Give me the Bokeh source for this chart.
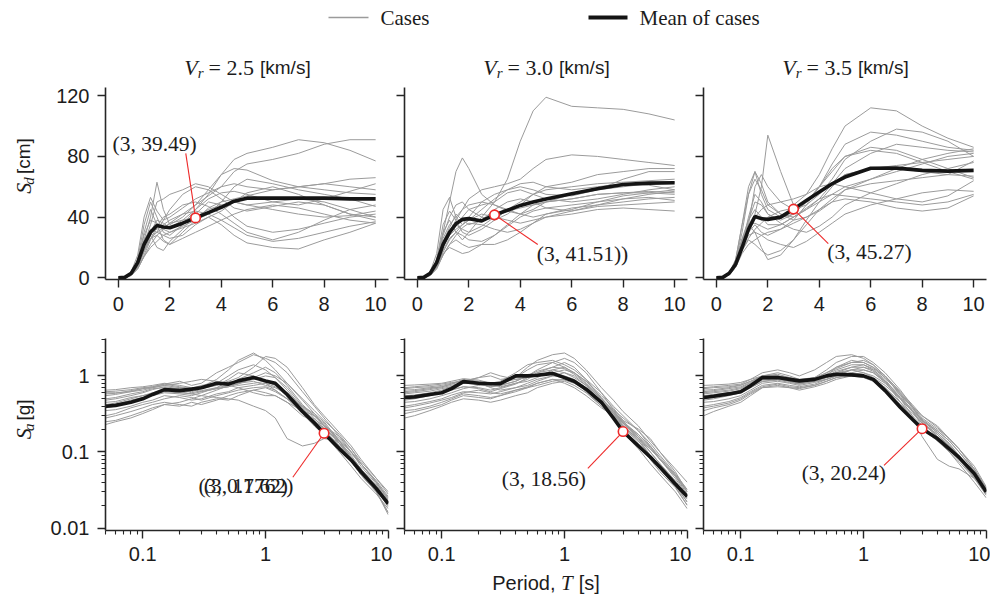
import math
from bokeh.plotting import figure
from bokeh.layouts import column, row
from bokeh.models import Range1d, FixedTicker, PrintfTickFormatter, CustomJSTickFormatter, Label
from bokeh.core.properties import value
from bokeh.embed import file_html
from bokeh.resources import INLINE

# ---------------- data ----------------
VR_LABELS = ["2.5", "3.0", "3.5"]

T_SD = [0, 0.25, 0.5, 0.75, 1, 1.25, 1.5, 1.75, 2, 2.5, 3, 3.5, 4, 4.5, 5, 6, 7, 8, 9, 10]
T_SA = [0.05, 0.06, 0.08, 0.1, 0.12, 0.15, 0.2, 0.25, 0.3, 0.4, 0.5, 0.6, 0.8, 1,
        1.2, 1.5, 2, 2.5, 3, 4, 5, 6, 8, 10]

SD_CASES_VR25 = [
    [0, .3, 2, 8, 20, 30, 38, 36, 33, 38, 45, 55, 68, 78, 82, 86, 91, 89, 84, 77],
    [0, .2, 2, 6, 14, 22, 28, 32, 36, 42, 48, 54, 60, 70, 75, 78, 82, 88, 91, 91],
    [0, .3, 3, 10, 25, 40, 63, 45, 35, 40, 48, 58, 68, 72, 71, 64, 60, 62, 65, 66],
    [0, .4, 4, 15, 40, 53, 44, 38, 40, 46, 52, 56, 60, 62, 60, 58, 60, 62, 60, 58],
    [0, .3, 3, 12, 35, 50, 40, 30, 28, 35, 45, 52, 56, 57, 55, 50, 48, 52, 57, 62],
    [0, .2, 2, 8, 22, 35, 50, 52, 55, 58, 62, 60, 55, 50, 48, 50, 52, 50, 45, 40],
    [0, .2, 2, 7, 18, 28, 30, 38, 45, 55, 60, 58, 52, 46, 44, 47, 50, 48, 42, 38],
    [0, .3, 3, 11, 30, 45, 35, 25, 22, 30, 38, 46, 50, 52, 54, 58, 60, 58, 56, 55],
    [0, .2, 1.5, 6, 15, 25, 34, 40, 42, 48, 50, 47, 42, 36, 30, 25, 30, 38, 45, 48],
    [0, .3, 2.5, 9, 22, 28, 20, 18, 24, 32, 42, 50, 48, 40, 34, 30, 32, 36, 40, 42],
    [0, .2, 2, 7, 17, 26, 30, 28, 26, 28, 35, 40, 35, 28, 23, 20, 19, 25, 30, 36],
    [0, .2, 2, 8, 20, 30, 32, 35, 38, 42, 44, 42, 38, 33, 28, 24, 26, 30, 34, 37],
    [0, .3, 2.5, 10, 25, 32, 30, 33, 36, 38, 40, 45, 48, 50, 48, 45, 42, 40, 41, 44],
    [0, .2, 1.5, 6, 14, 20, 24, 28, 30, 34, 38, 42, 50, 60, 65, 62, 58, 55, 52, 47],
    [0, .3, 3, 12, 28, 38, 36, 32, 30, 33, 36, 40, 44, 50, 56, 60, 55, 48, 42, 40],
    [0, .2, 2, 7, 18, 26, 28, 24, 22, 26, 30, 34, 38, 42, 45, 48, 46, 42, 38, 36],
]
SD_MEAN_VR25 = [0, .3, 3, 10, 22, 30, 34.5, 33.5, 33, 36, 39.49, 43, 46.5, 50.5, 52.5, 52.5, 52.5, 52.5, 52, 52]

SD_CASES_VR30 = [
    [0, .3, 2.5, 9, 22, 30, 35, 40, 45, 48, 50, 65, 90, 110, 119, 113, 112, 111, 108, 104],
    [0, .3, 3, 12, 30, 50, 70, 79, 72, 55, 48, 44, 42, 45, 50, 55, 58, 60, 62, 63],
    [0, .4, 4, 16, 45, 53, 40, 35, 38, 45, 52, 58, 62, 63, 60, 58, 60, 62, 61, 58],
    [0, .2, 2, 8, 20, 30, 38, 45, 52, 58, 60, 62, 65, 72, 78, 81, 80, 78, 76, 74],
    [0, .3, 3, 10, 28, 40, 48, 50, 45, 40, 38, 42, 48, 55, 60, 63, 68, 70, 72, 72],
    [0, .2, 2, 7, 18, 26, 30, 35, 40, 50, 55, 58, 60, 58, 55, 54, 58, 65, 70, 70],
    [0, .3, 3, 12, 35, 44, 38, 30, 28, 32, 38, 45, 50, 55, 58, 60, 62, 63, 64, 65],
    [0, .2, 2, 7, 16, 20, 18, 16, 17, 22, 28, 35, 42, 48, 50, 52, 55, 56, 56, 55],
    [0, .2, 1.5, 6, 15, 22, 25, 22, 20, 22, 22, 25, 30, 36, 42, 46, 48, 50, 52, 53],
    [0, .3, 2.5, 9, 24, 33, 42, 38, 35, 38, 45, 50, 52, 50, 46, 44, 48, 52, 55, 57],
    [0, .2, 2, 8, 20, 28, 32, 35, 38, 42, 40, 38, 36, 38, 40, 42, 45, 46, 45, 44],
    [0, .3, 3, 11, 30, 38, 30, 25, 30, 40, 50, 56, 58, 55, 52, 50, 52, 55, 58, 60],
    [0, .2, 2, 7, 17, 25, 30, 28, 25, 24, 28, 34, 40, 44, 46, 48, 50, 52, 53, 51],
    [0, .3, 2.5, 10, 26, 35, 40, 45, 48, 50, 48, 45, 42, 40, 42, 45, 50, 54, 56, 58],
    [0, .2, 1.5, 6, 15, 22, 28, 33, 36, 35, 32, 30, 32, 36, 40, 44, 47, 48, 49, 50],
    [0, .2, 2, 8, 20, 30, 35, 32, 30, 34, 40, 44, 46, 48, 50, 52, 55, 56, 57, 56],
]
SD_MEAN_VR30 = [0, .3, 3, 10, 22, 30, 35.6, 38.5, 39, 37.5, 41.51, 44.5, 47.7, 50, 52, 55.4, 58.7, 61.5, 62.4, 62.6]

SD_CASES_VR35 = [
    [0, .3, 3, 10, 25, 35, 42, 60, 94, 70, 48, 55, 68, 85, 100, 112, 110, 100, 92, 86],
    [0, .3, 3, 12, 35, 60, 70, 55, 45, 40, 42, 50, 60, 75, 88, 96, 94, 90, 86, 84],
    [0, .2, 2, 8, 20, 35, 60, 68, 60, 50, 45, 48, 55, 65, 78, 90, 98, 96, 90, 80],
    [0, .3, 3, 11, 30, 55, 70, 62, 50, 42, 40, 45, 52, 62, 72, 82, 88, 86, 84, 83],
    [0, .2, 2, 8, 22, 40, 55, 50, 42, 38, 42, 50, 60, 70, 80, 86, 84, 78, 72, 66],
    [0, .3, 3, 12, 35, 55, 65, 58, 48, 42, 38, 40, 44, 50, 58, 65, 72, 78, 82, 85],
    [0, .2, 2, 7, 18, 25, 22, 18, 15, 18, 25, 35, 45, 52, 58, 62, 64, 66, 68, 77],
    [0, .3, 3, 10, 25, 35, 30, 20, 12, 15, 25, 38, 50, 60, 68, 72, 74, 76, 78, 80],
    [0, .2, 2, 8, 20, 28, 30, 28, 25, 22, 20, 24, 30, 36, 42, 48, 52, 56, 58, 57],
    [0, .3, 3, 10, 26, 38, 45, 40, 35, 35, 40, 46, 52, 55, 54, 52, 50, 48, 50, 55],
    [0, .2, 2, 7, 16, 22, 25, 28, 30, 32, 36, 40, 45, 50, 52, 50, 46, 44, 46, 54],
    [0, .3, 2.5, 9, 22, 32, 40, 45, 48, 50, 52, 55, 60, 62, 60, 56, 52, 50, 54, 64],
    [0, .2, 2, 8, 20, 30, 35, 30, 28, 32, 38, 48, 60, 72, 80, 84, 82, 76, 70, 65],
    [0, .3, 3, 10, 25, 35, 36, 34, 32, 35, 40, 45, 50, 55, 60, 65, 70, 75, 80, 82],
    [0, .2, 2, 7, 18, 26, 32, 36, 40, 44, 46, 50, 56, 62, 68, 72, 72, 70, 68, 67],
    [0, .3, 2.5, 9, 24, 38, 50, 48, 42, 36, 32, 30, 34, 40, 48, 56, 62, 68, 72, 76],
]
SD_MEAN_VR35 = [0, .3, 3, 9, 20, 32, 40.4, 39, 38.5, 40, 45.27, 51, 56.5, 62, 66.4, 72.2, 72.3, 70.8, 70.3, 70.8]

SA_CASES_VR25 = [
    [.62, .63, .66, .70, .72, .78, .85, .75, .80, 1.1, 1.3, 1.5, 1.9, 1.7, 1.5, 1.1, .62, .40, .28, .16, .10, .07, .04, .025],
    [.55, .57, .62, .68, .70, .75, .70, .65, .72, .90, 1.2, 1.6, 2.0, 1.6, 1.2, .80, .50, .35, .26, .17, .11, .075, .045, .030],
    [.48, .50, .55, .60, .66, .72, .68, .60, .64, .70, .85, .95, 1.3, 1.8, 1.7, 1.3, .70, .42, .30, .18, .12, .08, .045, .028],
    [.42, .44, .50, .55, .58, .65, .62, .58, .55, .65, .75, .90, 1.1, 1.3, 1.1, .75, .42, .30, .22, .15, .10, .07, .042, .026],
    [.65, .66, .70, .72, .75, .80, .75, .70, .72, .78, .85, .80, .90, 1.0, .95, .70, .40, .28, .20, .14, .09, .06, .035, .020],
    [.38, .40, .45, .50, .55, .60, .58, .55, .60, .70, .75, .70, .60, .55, .55, .45, .30, .25, .21, .13, .08, .055, .033, .020],
    [.30, .32, .38, .42, .45, .50, .55, .52, .48, .55, .60, .65, .70, .72, .65, .50, .32, .22, .17, .13, .095, .07, .040, .023],
    [.25, .26, .30, .34, .38, .42, .45, .50, .55, .52, .50, .48, .40, .35, .28, .15, .12, .13, .15, .14, .10, .065, .038, .022],
    [.60, .60, .62, .65, .70, .75, .80, .85, .90, .85, .80, .75, .80, .85, .75, .60, .38, .25, .17, .10, .065, .045, .028, .018],
    [.50, .52, .58, .62, .68, .70, .65, .62, .68, .75, .90, 1.1, 1.0, .80, .65, .50, .40, .32, .25, .14, .08, .05, .030, .016],
    [.35, .36, .40, .45, .48, .55, .52, .48, .50, .58, .62, .70, .75, .80, .72, .55, .35, .27, .22, .16, .11, .07, .040, .024],
    [.28, .30, .34, .38, .42, .45, .42, .40, .45, .50, .48, .55, .65, .60, .55, .45, .35, .30, .24, .13, .075, .05, .030, .015],
    [.45, .46, .52, .55, .60, .65, .70, .68, .62, .68, .72, .80, .85, .75, .70, .58, .40, .30, .23, .14, .085, .06, .036, .021],
    [.58, .59, .64, .68, .72, .78, .72, .68, .75, .80, 1.0, 1.2, 1.4, 1.2, .95, .65, .38, .26, .19, .12, .08, .055, .032, .019],
    [.40, .42, .48, .52, .56, .62, .60, .58, .62, .68, .72, .78, .95, 1.1, 1.0, .80, .48, .32, .22, .13, .085, .06, .036, .022],
    [.23, .25, .28, .32, .36, .42, .40, .45, .42, .48, .55, .60, .65, .70, .62, .50, .35, .26, .20, .12, .075, .05, .030, .016],
]
SA_MEAN_VR25 = [.40, .41, .45, .50, .57, .66, .64, .67, .70, .80, .78, .86, .95, .86, .80, .57, .34, .24, .1762, .11, .078, .055, .033, .021]

SA_CASES_VR30 = [
    [.70, .72, .75, .78, .82, .85, .95, 1.0, .90, .95, 1.3, 1.6, 1.9, 2.0, 1.7, 1.2, .70, .48, .34, .22, .14, .10, .06, .040],
    [.62, .64, .68, .72, .78, .90, .85, .80, .85, 1.1, 1.4, 1.5, 1.6, 1.4, 1.2, .90, .60, .40, .30, .19, .12, .08, .050, .032],
    [.55, .56, .60, .65, .72, .80, .78, .72, .75, .85, 1.0, 1.2, 1.5, 1.7, 1.5, 1.1, .60, .36, .24, .16, .11, .08, .048, .030],
    [.75, .76, .78, .80, .85, .92, .88, .80, .82, .90, .95, 1.0, 1.1, 1.0, .90, .70, .45, .32, .24, .15, .10, .07, .040, .025],
    [.48, .50, .55, .60, .65, .72, .70, .65, .70, .80, .90, 1.1, 1.3, 1.5, 1.3, .90, .50, .34, .26, .20, .15, .10, .055, .030],
    [.40, .42, .46, .50, .56, .62, .60, .58, .62, .70, .75, .85, 1.0, 1.1, 1.0, .75, .45, .32, .22, .13, .085, .06, .035, .020],
    [.35, .36, .40, .45, .50, .58, .55, .52, .55, .62, .70, .80, .90, .80, .70, .55, .38, .30, .22, .14, .09, .065, .040, .024],
    [.65, .66, .70, .72, .78, .85, .95, 1.1, 1.0, .90, .95, 1.1, 1.2, 1.1, .95, .75, .50, .35, .25, .16, .10, .07, .042, .026],
    [.28, .30, .35, .40, .45, .50, .48, .45, .48, .55, .60, .70, .80, .85, .75, .60, .40, .28, .18, .11, .07, .05, .030, .018],
    [.58, .60, .63, .68, .72, .80, .82, .70, .65, .70, .80, .90, 1.0, .95, .85, .62, .40, .30, .22, .15, .11, .08, .048, .028],
    [.45, .46, .50, .55, .60, .68, .75, .78, .72, .80, .85, .95, 1.2, 1.3, 1.1, .85, .55, .38, .26, .15, .09, .06, .036, .022],
    [.52, .54, .58, .62, .66, .72, .68, .62, .68, .78, .95, 1.05, 1.1, 1.2, 1.1, .85, .52, .34, .24, .17, .12, .085, .050, .030],
    [.38, .40, .44, .48, .52, .60, .65, .60, .58, .65, .72, .80, .90, .88, .80, .65, .42, .30, .21, .12, .08, .055, .034, .020],
    [.68, .70, .72, .75, .80, .88, .82, .75, .80, .95, 1.2, 1.4, 1.5, 1.3, 1.1, .80, .50, .36, .28, .19, .13, .09, .052, .032],
    [.32, .34, .38, .42, .48, .55, .52, .50, .55, .65, .70, .75, .85, .90, .82, .65, .45, .32, .23, .14, .09, .065, .038, .022],
    [.60, .62, .66, .70, .75, .82, .78, .72, .75, .85, 1.0, 1.15, 1.3, 1.25, 1.05, .78, .48, .33, .25, .17, .115, .08, .045, .027],
]
SA_MEAN_VR30 = [.52, .53, .57, .60, .68, .84, .80, .79, .79, 1.0, 1.0, 1.02, 1.08, .95, .85, .67, .45, .28, .1856, .12, .086, .063, .038, .026]

SA_CASES_VR35 = [
    [.70, .72, .75, .78, .90, 1.1, 1.2, 1.1, 1.0, 1.2, 1.5, 1.8, 1.9, 1.7, 1.4, 1.0, .60, .40, .28, .20, .15, .11, .065, .035],
    [.62, .64, .68, .72, .82, 1.0, 1.05, .95, .85, .95, 1.2, 1.5, 1.8, 1.8, 1.5, 1.1, .65, .40, .25, .16, .12, .09, .055, .034],
    [.55, .57, .60, .65, .75, .90, .95, .85, .78, .85, 1.0, 1.3, 1.6, 1.5, 1.3, 1.0, .62, .42, .30, .22, .15, .11, .060, .033],
    [.75, .76, .78, .82, .90, 1.0, 1.0, .92, .88, .92, 1.0, 1.1, 1.2, 1.1, .95, .75, .50, .35, .26, .18, .13, .09, .050, .030],
    [.48, .50, .55, .60, .70, .85, .90, .85, .80, .90, 1.1, 1.3, 1.5, 1.6, 1.4, 1.0, .55, .35, .22, .14, .11, .08, .048, .029],
    [.40, .42, .46, .52, .62, .75, .80, .75, .72, .78, .90, 1.0, 1.2, 1.3, 1.2, .90, .50, .30, .16, .08, .065, .06, .045, .029],
    [.30, .34, .40, .45, .55, .70, .75, .70, .65, .72, .80, .90, 1.0, 1.0, .90, .70, .45, .32, .24, .17, .12, .085, .050, .031],
    [.65, .66, .70, .75, .85, 1.0, 1.1, 1.0, .90, .85, .90, 1.0, 1.1, 1.2, 1.1, .85, .55, .40, .30, .21, .15, .11, .060, .034],
    [.58, .60, .63, .68, .78, .92, .95, .88, .82, .88, .95, 1.1, 1.3, 1.4, 1.2, .85, .45, .28, .20, .14, .10, .075, .045, .027],
    [.45, .46, .50, .55, .65, .80, .85, .80, .75, .82, .90, 1.0, 1.1, 1.0, .92, .70, .42, .30, .22, .15, .11, .08, .047, .028],
    [.52, .54, .58, .62, .72, .88, .92, .85, .80, .90, 1.05, 1.2, 1.4, 1.4, 1.25, .95, .58, .38, .27, .19, .14, .10, .056, .032],
    [.38, .40, .44, .50, .60, .72, .78, .72, .70, .75, .85, .95, 1.0, .95, .85, .65, .40, .28, .21, .15, .10, .07, .040, .025],
    [.68, .70, .72, .76, .85, .98, 1.0, .95, .90, .95, 1.1, 1.25, 1.5, 1.5, 1.3, .95, .58, .38, .26, .18, .125, .09, .052, .031],
    [.35, .38, .42, .48, .58, .70, .72, .70, .68, .75, .85, .95, 1.05, 1.1, 1.0, .80, .50, .34, .24, .16, .11, .08, .046, .028],
    [.60, .62, .65, .70, .80, .95, 1.0, .92, .85, .90, 1.0, 1.15, 1.3, 1.3, 1.15, .85, .52, .36, .26, .19, .14, .10, .058, .033],
    [.50, .52, .56, .60, .70, .84, .88, .82, .78, .85, .95, 1.05, 1.2, 1.2, 1.1, .82, .50, .34, .25, .17, .12, .085, .050, .030],
]
SA_MEAN_VR35 = [.52, .54, .58, .62, .74, .95, .95, .90, .86, .90, 1.0, 1.05, 1.03, 1.0, .90, .64, .385, .27, .2024, .15, .11, .085, .052, .030]

# highlighted points (T, value) and their printed labels
SD_POINTS = [(3, 39.49), (3, 41.51), (3, 45.27)]
SD_POINT_LABELS = [["(3, 39.49)"], ["(3, 41.51))"], ["(3, 45.27)"]]
SA_POINTS = [(3, 0.1762), (3, 0.1856), (3, 0.2024)]
SA_POINT_LABELS = [["(3, 17.62)", "(3, 0.1762)"], ["(3, 18.56)"], ["(3, 20.24)"]]

# ---------------- style ----------------
GRAY = "#9b9b9b"
BLACK = "#141414"
RED = "#ee2a2a"
AX = "#262626"
TXT = "#1c1c1c"
SERIF = "Liberation Serif"
SANS = "Liberation Sans"

SERIF_W = {'(': 333, ')': 333, ',': 250, ' ': 250, '.': 250, '=': 564, 'C': 667, 'a': 444,
           's': 389, 'e': 444, 'M': 889, 'n': 500, 'o': 500, 'f': 333, 'c': 444}
SERIF_IW = {'V': 611, 'r': 389, 'S': 500, 'd': 500, 'a': 500, 'T': 556}
SANS_W = {'[': 278, ']': 278, 'k': 500, 'm': 833, '/': 278, 's': 500, 'c': 500, 'g': 556,
          'P': 667, 'e': 556, 'r': 333, 'i': 222, 'o': 556, 'd': 556, ',': 278, ' ': 278}


def text_width(t, font, style, size):
    if font == SANS:
        tab = SANS_W
    elif style == "italic":
        tab = SERIF_IW
    else:
        tab = SERIF_W
    return sum(tab.get(ch, 500) for ch in t) / 1000.0 * size


def rich(p, x, y, parts, rotated=False):
    """Composite text in page pixels, (x, y) = visual centre of the whole string.
    parts: (text, font, style, size px, baseline shift px, gap after px)."""
    widths = [text_width(t, f, s, z) + g for (t, f, s, z, sh, g) in parts]
    total = sum(widths)
    if not rotated:
        pos = x - total / 2
        for (t, f, s, z, sh, g), w in zip(parts, widths):
            p.text(x=[pos], y=[-(y + sh)], text=[t], text_font=value(f), text_font_style=s,
                   text_font_size=f"{z}px", text_align="left", text_baseline="middle",
                   text_color=TXT)
            pos += w
    else:
        pos = -(y + total / 2)
        for (t, f, s, z, sh, g), w in zip(parts, widths):
            p.add_layout(Label(x=x + sh, y=pos, x_units="data", y_units="data", text=t,
                               text_font=f, text_font_style=s, text_font_size=f"{z}px",
                               text_align="left", text_baseline="middle", text_color=TXT,
                               angle=math.pi / 2, angle_units="rad"))
            pos += w


def blank(x0, y0, width, height):
    """A plain drawing area whose data units are page pixels (y negated)."""
    p = figure(width=width, height=height, x_range=Range1d(x0, x0 + width),
               y_range=Range1d(-(y0 + height), -y0),
               x_axis_location=None, y_axis_location=None, toolbar_location=None,
               output_backend="svg", min_border=0)
    p.outline_line_color = None
    p.grid.visible = False
    return p


def style_axes(p, show_y, x_standoff):
    for ax in p.axis:
        ax.axis_line_color = AX
        ax.axis_line_width = 1.6
        ax.major_tick_line_color = AX
        ax.major_tick_line_width = 1.4
        ax.minor_tick_line_color = AX
        ax.minor_tick_line_width = 1.1
        ax.major_tick_in = 0
        ax.major_tick_out = 8
        ax.minor_tick_in = 0
        ax.minor_tick_out = 4
        ax.major_label_text_font = SANS
        ax.major_label_text_font_size = "20px"
        ax.major_label_text_color = TXT
    p.xaxis.major_label_standoff = x_standoff
    p.yaxis.major_label_standoff = 8
    if not show_y:
        p.yaxis.formatter = CustomJSTickFormatter(code="return ''")
        p.yaxis.major_label_standoff = 0


def panel_base(i, height, top, bottom, log):
    widths = [350, 299, 299]
    lefts = [63, 12, 12]
    kw = dict(width=widths[i], height=height, toolbar_location=None, output_backend="svg",
              min_border_left=lefts[i], min_border_right=4, min_border_top=top,
              min_border_bottom=bottom)
    if log:
        p = figure(x_axis_type="log", y_axis_type="log",
                   x_range=Range1d(0.0497, 10.05), y_range=Range1d(0.0093, 3.1), **kw)
    else:
        p = figure(x_range=Range1d(-0.5, 10.5), y_range=Range1d(-1.1, 125.4), **kw)
    p.outline_line_color = None
    p.grid.visible = False
    p.background_fill_color = "white"
    return p


SD_CASES = [SD_CASES_VR25, SD_CASES_VR30, SD_CASES_VR35]
SD_MEANS = [SD_MEAN_VR25, SD_MEAN_VR30, SD_MEAN_VR35]
SA_CASES = [SA_CASES_VR25, SA_CASES_VR30, SA_CASES_VR35]
SA_MEANS = [SA_MEAN_VR25, SA_MEAN_VR30, SA_MEAN_VR35]

# label placement (data coords): (text x, text y, align, line end x, line end y)
SD_LABEL_POS = [(1.41, 88.5, "center", 2.62, 82.0),
                (6.42, 15.4, "center", 4.68, 22.0),
                (5.95, 16.7, "center", 4.35, 22.6)]
SA_LABEL_POS = [(0.692, 0.0354, "center", 1.67, 0.0465),
                (0.679, 0.0438, "center", 1.55, 0.061),
                (0.691, 0.0525, "center", 1.47, 0.0668)]

top_row, bot_row = [], []
for i in range(3):
    # --- spectral displacement ---
    p = panel_base(i, 239, 7, 40, False)
    cases = SD_CASES[i]
    p.multi_line(xs=[T_SD[:len(c)] for c in cases], ys=cases, line_color=GRAY, line_width=1.0)
    p.line(T_SD[:len(SD_MEANS[i])], SD_MEANS[i], line_color=BLACK, line_width=3.6)
    tx, ty, al, lx, ly = SD_LABEL_POS[i]
    px, py = SD_POINTS[i]
    p.line([px, lx], [py, ly], line_color=RED, line_width=1.1)
    p.scatter([px], [py], size=9.5, marker="circle", fill_color="white", line_color=RED, line_width=1.6)
    for lab in SD_POINT_LABELS[i]:
        p.text([tx], [ty], text=[lab], text_font=value(SERIF), text_font_size="21.5px",
               text_align=al, text_baseline="middle", text_color=TXT)
    p.xaxis.ticker = FixedTicker(ticks=[0, 2, 4, 6, 8, 10])
    p.yaxis.ticker = FixedTicker(ticks=[0, 40, 80, 120])
    style_axes(p, i == 0, 9)
    top_row.append(p)

    # --- spectral acceleration ---
    q = panel_base(i, 251, 19, 40, True)
    cases = SA_CASES[i]
    q.multi_line(xs=[T_SA[:len(c)] for c in cases], ys=cases, line_color=GRAY, line_width=1.0)
    q.line(T_SA[:len(SA_MEANS[i])], SA_MEANS[i], line_color=BLACK, line_width=3.6)
    tx, ty, al, lx, ly = SA_LABEL_POS[i]
    px, py = SA_POINTS[i]
    q.line([px, lx], [py, ly], line_color=RED, line_width=1.1)
    q.scatter([px], [py], size=9.5, marker="circle", fill_color="white", line_color=RED, line_width=1.6)
    for lab in SA_POINT_LABELS[i]:
        q.text([tx], [ty], text=[lab], text_font=value(SERIF), text_font_size="21.5px",
               text_align=al, text_baseline="middle", text_color=TXT)
    q.xaxis.ticker = FixedTicker(ticks=[0.1, 1, 10],
                                 minor_ticks=[0.05, 0.06, 0.07, 0.08, 0.09, 0.2, 0.3, 0.4, 0.5,
                                              0.6, 0.7, 0.8, 0.9, 2, 3, 4, 5, 6, 7, 8, 9])
    q.yaxis.ticker = FixedTicker(ticks=[0.01, 0.1, 1],
                                 minor_ticks=[0.02, 0.03, 0.04, 0.05, 0.06, 0.07, 0.08, 0.09,
                                              0.2, 0.3, 0.4, 0.5, 0.6, 0.7, 0.8, 0.9, 2, 3])
    q.xaxis.formatter = PrintfTickFormatter(format="%g")
    q.yaxis.formatter = PrintfTickFormatter(format="%g")
    style_axes(q, i == 0, 8)
    bot_row.append(q)

# ---------------- header: legend + panel titles (page pixel coords) ----------------
header = blank(0, 0, 990, 80)
header.line([328, 368], [-17, -17], line_color=GRAY, line_width=1.6)
header.text([380], [-17], text=["Cases"], text_font=value(SERIF), text_font_size="21px",
            text_align="left", text_baseline="middle", text_color=TXT)
header.line([588, 627], [-17, -17], line_color=BLACK, line_width=4)
header.text([639], [-17], text=["Mean of cases"], text_font=value(SERIF), text_font_size="21px",
            text_align="left", text_baseline="middle", text_color=TXT)
for cx, vr in zip([247, 546, 845], VR_LABELS):
    rich(header, cx, 67, [("V", SERIF, "italic", 22, 0, 0), ("r", SERIF, "italic", 15, 5, 5),
                          (f"= {vr}", SERIF, "normal", 22, 0, 6),
                          ("[km/s]", SANS, "normal", 19, 0, 0)])

# ---------------- left strips: y-axis titles ----------------
strip1 = blank(0, 80, 42, 239)
rich(strip1, 23, 182, [("S", SERIF, "italic", 22, 0, 0), ("d", SERIF, "italic", 15, 5, 6),
                       ("[cm]", SANS, "normal", 19, 0, 0)], rotated=True)
strip2 = blank(0, 319, 42, 251)
rich(strip2, 23, 428, [("S", SERIF, "italic", 22, 0, 0), ("a", SERIF, "italic", 15, 5, 6),
                       ("[g]", SANS, "normal", 19, 0, 0)], rotated=True)

# ---------------- footer: x-axis title ----------------
footer = blank(0, 570, 990, 28)
rich(footer, 545.5, 582, [("Period,", SANS, "normal", 20, 0, 5.5), ("T", SERIF, "italic", 21, 0, 6),
                          ("[s]", SANS, "normal", 20, 0, 0)])

layout = column(header, row(strip1, *top_row), row(strip2, *bot_row), footer)
open("out.html", "w").write(file_html(layout, INLINE))
